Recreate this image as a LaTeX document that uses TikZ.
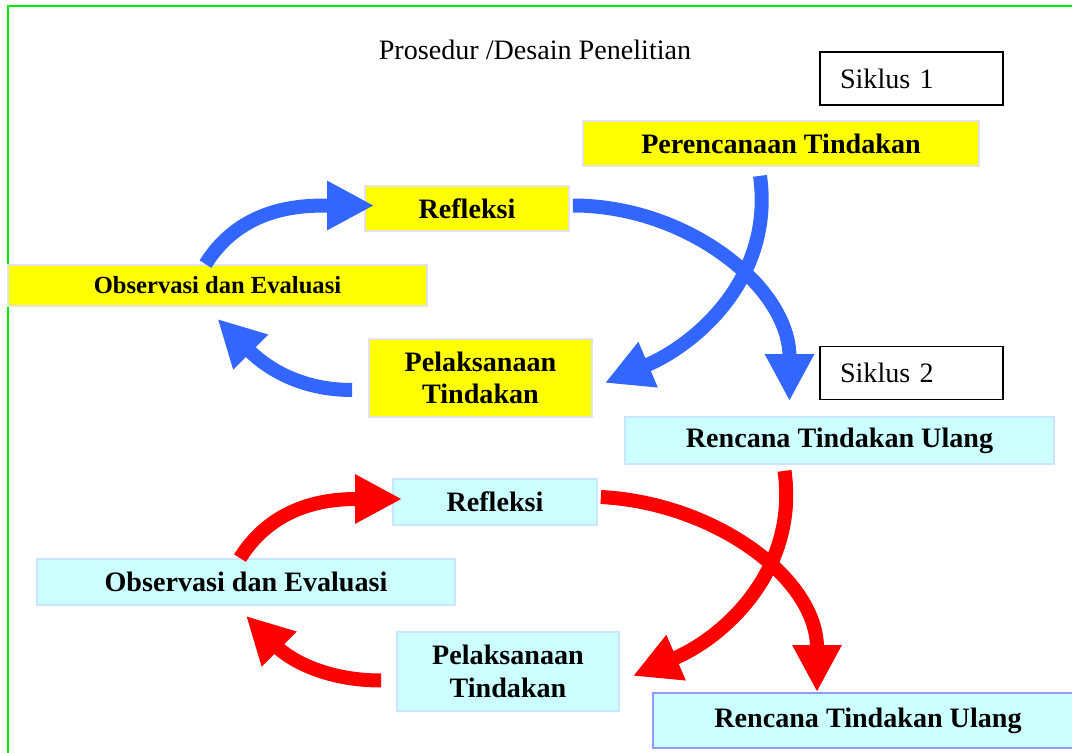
\documentclass[tikz,border=0pt]{standalone}
\usepackage{fontspec}
\setmainfont{Liberation Serif}
\usetikzlibrary{arrows.meta}
\definecolor{kuning}{RGB}{255,255,0}
\definecolor{biru}{RGB}{51,102,255}
\definecolor{merah}{RGB}{255,0,0}
\definecolor{tosca}{RGB}{204,255,255}
\definecolor{hijau}{RGB}{0,235,0}
\definecolor{abu}{RGB}{228,228,228}
\definecolor{birumuda}{RGB}{200,230,255}
\definecolor{ungu}{RGB}{150,150,255}
\begin{document}
\begin{tikzpicture}[x=0.02cm,y=-0.02cm,
  siklus/.style={draw=black,line width=1.1pt,fill=white,minimum height=1.06cm,text width=2.86cm,inner xsep=0.4cm,align=left,font=\fontsize{16}{19}\selectfont},
  kotaka/.style={fill=kuning,draw=abu,line width=1pt,inner sep=0pt,align=center,font=\fontsize{16}{18.5}\selectfont\bfseries},
  kotakb/.style={fill=tosca,draw=birumuda,line width=1pt,inner sep=0pt,align=center,font=\fontsize{16}{18.5}\selectfont\bfseries},
  panah/.style={line width=0.28cm,-{Triangle[length=0.94cm,width=0.92cm]}}]
\useasboundingbox (0,0) rectangle (1072,753);
\draw[hijau,line width=1.2pt] (1072,6) -- (8,6) -- (8,753);
\node (judul) at (535,50) {\fontsize{16}{19}\selectfont Prosedur /Desain Penelitian};
\node[siklus] (siklus1) at (911.5,78.5) {Siklus 1};
\node[siklus] (siklus2) at (911.5,373) {Siklus 2};
\node[kotaka,minimum width=7.92cm,minimum height=0.9cm] (renc) at (781,143.5) {Perencanaan Tindakan};
\node[kotaka,minimum width=4.08cm,minimum height=0.9cm] (refl1) at (467,208.5) {Refleksi};
\node[kotaka,minimum width=8.38cm,minimum height=0.82cm,font=\fontsize{14}{17}\selectfont\bfseries] (obs1) at (217.5,285.5) {Observasi dan Evaluasi};
\node[kotaka,minimum width=4.46cm,minimum height=1.56cm] (pel1) at (480.5,378) {Pelaksanaan\\Tindakan};
\node[kotakb,minimum width=8.58cm,minimum height=0.94cm] (ulang1) at (839.5,440.5) {Rencana Tindakan Ulang};
\node[kotakb,minimum width=4.08cm,minimum height=0.92cm] (refl2) at (495,502) {Refleksi};
\node[kotakb,minimum width=8.36cm,minimum height=0.92cm] (obs2) at (246,582) {Observasi dan Evaluasi};
\node[kotakb,minimum width=4.44cm,minimum height=1.58cm] (pel2) at (508,671.5) {Pelaksanaan\\Tindakan};
\node[kotakb,draw=ungu,minimum width=8.6cm,minimum height=1.1cm] (ulang2) at (868,720.5) {Rencana Tindakan Ulang};

\draw[panah,biru] ([xshift=-0.24cm]obs1.north) to[out=58,in=180] ([xshift=0.2cm,yshift=0.06cm]refl1.west);
\draw[panah,biru] ([xshift=-0.32cm,yshift=-0.24cm]pel1.west) to[out=180,in=-45] ([yshift=-0.24cm]obs1.south);
\draw[panah,biru] ([xshift=-0.42cm,yshift=-0.18cm]renc.south) to[out=-82,in=23] ([xshift=0.24cm,yshift=-0.1cm]pel1.east);
\draw[panah,biru] ([xshift=0.06cm,yshift=0.06cm]refl1.east) to[out=0,in=90] ([xshift=-1.0cm,yshift=0.3cm]ulang1.north);

\draw[panah,merah] ([xshift=-0.12cm]obs2.north) to[out=58,in=180] ([xshift=0.2cm,yshift=0.06cm]refl2.west);
\draw[panah,merah] ([xshift=-0.3cm,yshift=-0.18cm]pel2.west) to[out=180,in=-45] ([yshift=-0.2cm]obs2.south);
\draw[panah,merah] ([xshift=-1.1cm,yshift=-0.12cm]ulang1.south) to[out=-82,in=23] ([xshift=0.26cm,yshift=-0.09cm]pel2.east);
\draw[panah,merah] ([xshift=0.06cm,yshift=0.1cm]refl2.east) to[out=-3,in=90] ([xshift=-1.02cm]ulang2.north);
\end{tikzpicture}
\end{document}
